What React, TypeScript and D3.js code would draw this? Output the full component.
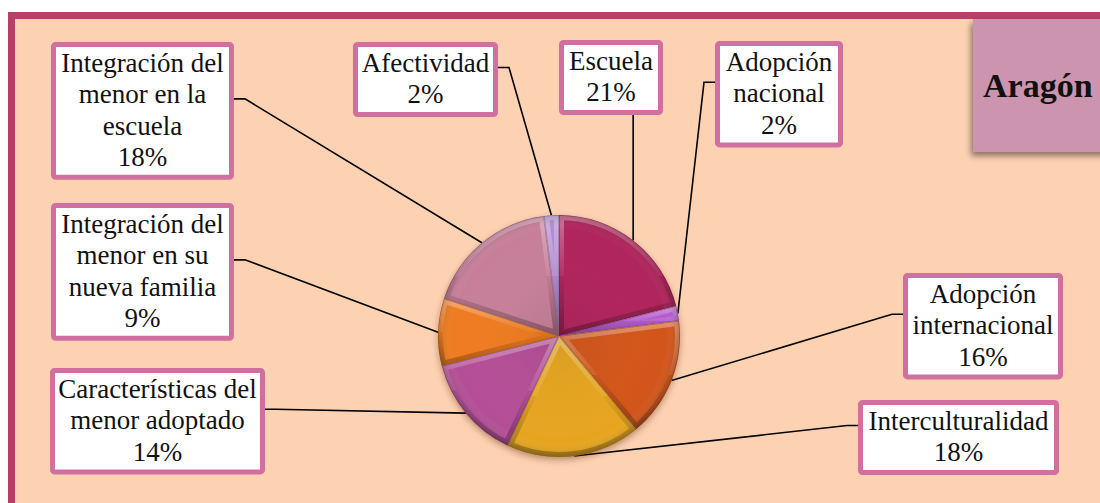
import React from 'react'
import * as d3 from 'd3'

// slices clockwise from 12 o'clock
const categories = [
    "Escuela",
    "Adopción nacional",
    "Adopción internacional",
    "Interculturalidad",
    "Características del menor adoptado",
    "Integración del menor en su nueva familia",
    "Integración del menor en la escuela",
    "Afectividad",
]
const values = [21, 2, 16, 18, 14, 9, 18, 2]
const labelLines = [
    ["Escuela"],
    ["Adopción", "nacional"],
    ["Adopción", "internacional"],
    ["Interculturalidad"],
    ["Características del", "menor adoptado"],
    ["Integración del", "menor en su", "nueva familia"],
    ["Integración del", "menor en la", "escuela"],
    ["Afectividad"],
]
const sliceColors = ["#b0255b", "#b55ccc", "#d2561c", "#e6a51f", "#b44f97", "#ef7b20", "#c77f99", "#b48bd2"]
const regionTitle = "Aragón"

// label boxes (outer edges) and which side the leader leaves from
const boxes = [
    { x: 559, y: 40, w: 104, side: "bottom" },
    { x: 715, y: 41, w: 128, side: "left" },
    { x: 903, y: 273, w: 160, side: "left" },
    { x: 858, y: 400, w: 201, side: "left" },
    { x: 50, y: 368, w: 215, side: "right" },
    { x: 51, y: 203, w: 183, side: "right" },
    { x: 51, y: 42, w: 183, side: "right" },
    { x: 353, y: 42, w: 145, side: "right" },
]

const W = 1100, H = 503
const cx = 559, cy = 336, R = 121
const lineH = 31.3
const font = "Liberation Serif"

export default function App() {
    const pie = d3.pie<number>().sort(null).value(d => d).startAngle(0).endAngle(2 * Math.PI)
    const arcs = pie(values)
    const arc = d3.arc<d3.PieArcDatum<number>>().innerRadius(0).outerRadius(R)
    const total = d3.sum(values)
    const pct = d3.format(".0%")

    const leader = (a: d3.PieArcDatum<number>, i: number) => {
        const mid = (a.startAngle + a.endAngle) / 2
        const ex = cx + R * Math.sin(mid)
        const ey = cy - R * Math.cos(mid)
        const b = boxes[i]
        const h = (labelLines[i].length + 1) * lineH + 12.5
        const sy = b.y + h / 2 - 12
        let pts: [number, number][]
        if (b.side === "bottom") pts = [[ex, b.y + h], [ex, ey]]
        else if (b.side === "right") pts = [[b.x + b.w, sy], [b.x + b.w + 11, sy], [ex, ey]]
        else pts = [[b.x, sy], [b.x - 11, sy], [ex, ey]]
        return d3.line()(pts) as string
    }

    return (
        <div style={{ position: 'absolute', left: 0, top: 0 }}>
            <svg width={W} height={H} style={{ display: 'block' }}>
                <defs>
                    <filter id="boxShadow" x="-20%" y="-20%" width="140%" height="140%">
                        <feDropShadow dx={-2} dy={4} stdDeviation={3} floodColor="#000" floodOpacity={0.45} />
                    </filter>
                    <filter id="pieShadow" x="-20%" y="-20%" width="140%" height="140%">
                        <feDropShadow dx={0} dy={3} stdDeviation={3} floodColor="#5a2a10" floodOpacity={0.4} />
                    </filter>
                    <linearGradient id="bevel" x1="0" y1="0" x2="0" y2="1">
                        <stop offset="0" stopColor="#fff" stopOpacity={0.35} />
                        <stop offset="0.5" stopColor="#fff" stopOpacity={0.05} />
                        <stop offset="0.5" stopColor="#000" stopOpacity={0.03} />
                        <stop offset="1" stopColor="#000" stopOpacity={0.3} />
                    </linearGradient>
                    <radialGradient id="gloss" cx="0.5" cy="0.5" r="0.5">
                        <stop offset="0" stopColor="#000" stopOpacity={0.06} />
                        <stop offset="0.88" stopColor="#fff" stopOpacity={0} />
                        <stop offset="1" stopColor="#000" stopOpacity={0.15} />
                    </radialGradient>
                    {arcs.map((a, i) => (
                        <clipPath id={`clip-${i}`} key={i}>
                            <path d={arc(a) as string} transform={`translate(${cx},${cy})`} />
                        </clipPath>
                    ))}
                </defs>

                {/* frame */}
                <rect x={11.5} y={15.5} width={1200} height={600} fill="#fdd2b3" stroke="#b93e67" strokeWidth={7} />

                {/* title box */}
                <rect x={973} y={19} width={140} height={133} fill="#cc94ae" filter="url(#boxShadow)" />
                <text x={983} y={97} fontFamily={font} fontWeight="bold" fontSize={34} fill="#111">{regionTitle}</text>

                {/* leader lines */}
                <g fill="none" stroke="#000" strokeWidth={1.6}>
                    {arcs.map((a, i) => <path key={i} d={leader(a, i)} />)}
                </g>

                {/* pie */}
                <g filter="url(#pieShadow)">
                    {arcs.map((a, i) => (
                        <g key={i} clipPath={`url(#clip-${i})`}>
                            <path d={arc(a) as string} transform={`translate(${cx},${cy})`} fill={sliceColors[i]} />
                            <path d={arc(a) as string} transform={`translate(${cx},${cy})`} fill="none"
                                stroke="url(#bevel)" strokeWidth={10} />
                            <path d={arc(a) as string} transform={`translate(${cx},${cy})`} fill="none"
                                stroke={d3.color(sliceColors[i])!.darker(1).toString()} strokeWidth={1.5} strokeOpacity={0.6} />
                        </g>
                    ))}
                    <circle cx={cx} cy={cy} r={R} fill="url(#gloss)" />
                </g>

                {/* labels */}
                {arcs.map((a, i) => {
                    const b = boxes[i]
                    const lines = [...labelLines[i], pct(a.data / total)]
                    const h = lines.length * lineH + 12.5
                    return (
                        <g key={categories[i]}>
                            <rect x={b.x + 2.5} y={b.y + 2.5} width={b.w - 5} height={h - 5} rx={2}
                                fill="#fff" stroke="#d26fa1" strokeWidth={5} />
                            {lines.map((l, j) => (
                                <text key={j} x={b.x + b.w / 2} y={b.y + 30 + j * lineH}
                                    fontFamily={font} fontSize={27} fill="#111" textAnchor="middle">{l}</text>
                            ))}
                        </g>
                    )
                })}
            </svg>
        </div>
    )
}
